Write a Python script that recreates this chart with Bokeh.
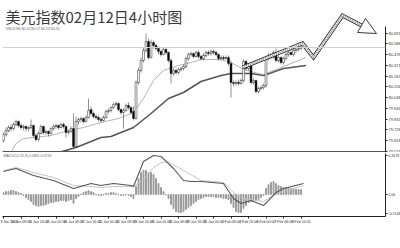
from bokeh.plotting import figure
from bokeh.models import Range1d, FixedTicker, Span, Label, ColumnDataSource, NumeralTickFormatter
from bokeh.layouts import column
from bokeh.embed import file_html
from bokeh.resources import INLINE

# ---------------- data ----------------
opens = [79.62, 79.68, 79.72, 79.75, 79.74, 79.78, 79.81, 79.77, 79.75, 79.76,
         79.74, 79.75, 79.77, 79.67, 79.63, 79.69, 79.76, 79.70, 79.71, 79.69,
         79.74, 79.76, 79.77, 79.75, 79.78, 79.76, 79.70, 79.71, 79.74, 79.56,
         79.81, 79.83, 79.84, 79.81, 79.85, 79.93, 79.89, 79.86, 79.85, 79.83,
         79.82, 79.85, 79.91, 79.92, 79.95, 79.98, 79.99, 79.93, 79.90, 79.92,
         79.97, 79.95, 79.91, 79.84, 80.20, 80.32, 80.42, 80.52, 80.61, 80.45,
         80.60, 80.57, 80.54, 80.51, 80.48, 80.53, 80.50, 80.42, 80.29, 80.32,
         80.30, 80.33, 80.34, 80.36, 80.44, 80.48, 80.49, 80.46, 80.50, 80.46,
         80.44, 80.47, 80.50, 80.49, 80.51, 80.50, 80.48, 80.44, 80.45, 80.44,
         80.45, 80.39, 80.20, 80.19, 80.20, 80.19, 80.22, 80.41, 80.34, 80.37,
         80.20, 80.22, 80.11, 80.14, 80.15, 80.17, 80.44, 80.47, 80.45, 80.50,
         80.42, 80.45, 80.40, 80.44, 80.48, 80.50, 80.48, 80.52, 80.53, 80.54]
highs = [79.70, 79.75, 79.77, 79.78, 79.80, 79.83, 79.82, 79.79, 79.78, 79.77,
         79.76, 79.83, 79.78, 79.69, 79.71, 79.78, 79.77, 79.73, 79.72, 79.75,
         79.78, 79.79, 79.78, 79.80, 79.80, 79.77, 79.73, 79.76, 79.89, 79.86,
         79.85, 79.86, 79.85, 79.87, 80.04, 79.96, 79.91, 79.88, 79.87, 79.85,
         79.87, 79.93, 79.94, 79.96, 80.00, 80.01, 80.00, 79.94, 79.94, 79.99,
         80.00, 79.96, 79.96, 80.22, 80.35, 80.45, 80.55, 80.69, 80.64, 80.63,
         80.62, 80.59, 80.56, 80.53, 80.55, 80.55, 80.51, 80.44, 80.34, 80.34,
         80.35, 80.36, 80.38, 80.46, 80.50, 80.51, 80.50, 80.52, 80.52, 80.48,
         80.49, 80.52, 80.52, 80.53, 80.53, 80.52, 80.49, 80.47, 80.47, 80.47,
         80.47, 80.42, 80.22, 80.22, 80.23, 80.24, 80.43, 80.43, 80.39, 80.38,
         80.24, 80.23, 80.16, 80.17, 80.19, 80.46, 80.49, 80.49, 80.52, 80.54,
         80.47, 80.46, 80.46, 80.50, 80.52, 80.52, 80.54, 80.55, 80.56, 80.57]
lows = [79.60, 79.66, 79.70, 79.71, 79.72, 79.76, 79.75, 79.73, 79.72, 79.71,
        79.71, 79.73, 79.65, 79.61, 79.61, 79.68, 79.68, 79.68, 79.66, 79.68,
        79.72, 79.74, 79.73, 79.74, 79.74, 79.65, 79.68, 79.70, 79.54, 79.55,
        79.78, 79.80, 79.79, 79.80, 79.84, 79.87, 79.84, 79.83, 79.81, 79.80,
        79.81, 79.84, 79.89, 79.90, 79.94, 79.96, 79.91, 79.88, 79.74, 79.91,
        79.93, 79.88, 79.82, 79.83, 80.18, 80.30, 80.40, 80.50, 80.43, 80.44,
        80.54, 80.52, 80.48, 80.46, 80.47, 80.48, 80.40, 80.19, 80.27, 80.28,
        80.28, 80.31, 80.32, 80.34, 80.42, 80.46, 80.44, 80.45, 80.44, 80.42,
        80.42, 80.45, 80.47, 80.47, 80.48, 80.46, 80.42, 80.42, 80.42, 80.43,
        80.37, 80.05, 80.16, 80.17, 80.17, 80.18, 80.20, 80.32, 80.32, 80.18,
        80.18, 80.09, 80.09, 80.12, 80.13, 80.15, 80.42, 80.43, 80.44, 80.40,
        80.40, 80.38, 80.38, 80.42, 80.46, 80.47, 80.46, 80.50, 80.51, 80.53]
closes = [79.68, 79.72, 79.75, 79.74, 79.78, 79.81, 79.77, 79.75, 79.76, 79.74,
          79.75, 79.77, 79.67, 79.63, 79.69, 79.76, 79.70, 79.71, 79.69, 79.74,
          79.76, 79.77, 79.75, 79.78, 79.76, 79.70, 79.71, 79.74, 79.56, 79.81,
          79.83, 79.84, 79.81, 79.85, 79.92, 79.89, 79.86, 79.85, 79.83, 79.82,
          79.85, 79.91, 79.92, 79.95, 79.98, 79.99, 79.93, 79.90, 79.92, 79.97,
          79.95, 79.90, 79.84, 80.20, 80.32, 80.42, 80.52, 80.61, 80.45, 80.60,
          80.57, 80.54, 80.51, 80.48, 80.53, 80.50, 80.42, 80.29, 80.32, 80.30,
          80.33, 80.34, 80.36, 80.44, 80.48, 80.49, 80.46, 80.50, 80.46, 80.44,
          80.47, 80.50, 80.49, 80.51, 80.50, 80.48, 80.44, 80.45, 80.44, 80.45,
          80.39, 80.20, 80.19, 80.20, 80.19, 80.22, 80.41, 80.34, 80.37, 80.20,
          80.22, 80.11, 80.14, 80.15, 80.17, 80.44, 80.47, 80.45, 80.50, 80.42,
          80.45, 80.40, 80.44, 80.48, 80.50, 80.48, 80.52, 80.53, 80.54, 80.55]

fast_ma_x = [3, 5, 8, 12, 19, 26, 32, 39, 46, 52, 56, 60, 64, 70, 75, 79, 87, 90, 94, 96, 102, 104, 110, 115, 121]
fast_ma = [79.50, 79.59, 79.64, 79.65, 79.67, 79.72, 79.75, 79.80, 79.84, 79.90, 80.04, 80.22, 80.32,
           80.37, 80.40, 80.43, 80.43, 80.41, 80.36, 80.33, 80.29, 80.28, 80.34, 80.39, 80.45]
slow_ma_x = [22, 29, 39, 43, 52, 59, 66, 72, 79, 87, 91, 99, 104, 112, 121]
slow_ma = [79.50, 79.55, 79.65, 79.66, 79.75, 79.89, 80.04, 80.10, 80.21, 80.27, 80.29, 80.29, 80.27, 80.34, 80.37]

current_price = 80.55
price_ticks = [80.693, 80.586, 80.478, 80.371, 80.263, 80.156, 80.048, 79.941, 79.833, 79.726, 79.618, 79.511]

macd_hist = [0.016, 0.024, 0.024, 0.033, 0.033, 0.024, 0.016, 0.008, -0.008, -0.024,
             -0.041, -0.057, -0.082, -0.090, -0.098, -0.090, -0.090, -0.082, -0.073, -0.065,
             -0.065, -0.057, -0.057, -0.049, -0.049, -0.057, -0.049, -0.041, -0.073, -0.033,
             -0.016, 0.004, 0.016, 0.024, 0.033, 0.024, 0.016, -0.004, -0.008, -0.008,
             -0.004, 0.008, 0.008, 0.016, 0.016, 0.008, -0.004, -0.008, -0.008, -0.004,
             -0.008, -0.016, -0.033, 0.065, 0.130, 0.179, 0.196, 0.196, 0.179, 0.179,
             0.163, 0.130, 0.090, 0.057, 0.024, -0.003, -0.033, -0.082, -0.114, -0.139,
             -0.147, -0.147, -0.139, -0.122, -0.106, -0.090, -0.073, -0.057, -0.041, -0.033,
             -0.024, -0.016, -0.016, -0.016, -0.016, -0.024, -0.024, -0.024, -0.033, -0.033,
             -0.041, -0.073, -0.106, -0.139, -0.147, -0.147, -0.114, -0.090, -0.065, -0.057,
             -0.049, -0.049, -0.041, -0.024, -0.008, 0.049, 0.081, 0.098, 0.106, 0.090,
             0.073, 0.065, 0.057, 0.057, 0.057, 0.049, 0.049, 0.041, 0.041, 0.041]
macd_x = [0, 5, 12, 20, 28, 35, 39, 44, 51, 52, 56, 60, 63, 68, 72, 75, 79, 88, 92, 95, 99, 104, 109, 112, 120]
macd_main = [0.187, 0.212, 0.155, 0.114, 0.049, 0.090, 0.073, 0.090, 0.073, 0.065, 0.269, 0.318, 0.310,
             0.212, 0.114, 0.106, 0.106, 0.090, -0.033, -0.073, -0.049, -0.090, 0.016, 0.049, 0.090]
signal_x = [0, 5, 12, 20, 28, 35, 39, 44, 52, 56, 60, 63, 66, 70, 79, 88, 92, 96, 104, 109, 120]
macd_signal = [0.196, 0.220, 0.179, 0.139, 0.073, 0.065, 0.057, 0.065, 0.065, 0.120, 0.220, 0.262,
               0.265, 0.220, 0.114, 0.098, 0.016, -0.033, -0.057, 0.008, 0.073]
macd_ticks = [0.3178, 0.0, -0.1548]
macd_tick_labels = ["0.3178", "0.00", "-0.1548"]

date_ticks = [0, 7, 14, 21, 28, 35, 42, 49, 56, 63, 70, 77, 84, 91, 98, 105, 112, 119]
date_labels = ["9 Jan 2013", "10 Jan 08:00", "11 Jan 16:00", "15 Jan 00:00", "16 Jan 08:00",
               "17 Jan 16:00", "21 Jan 00:00", "22 Jan 08:00", "23 Jan 16:00", "25 Jan 00:00",
               "28 Jan 08:00", "29 Jan 16:00", "31 Jan 00:00", "1 Feb 08:00", "4 Feb 16:00",
               "6 Feb 00:00", "7 Feb 08:00", "8 Feb 16:00"]

title_text = "美元指数02月12日4小时图"
header_text = "USDX,H4  80.54 80.57 80.53 80.55"
macd_header = "MACD(12,26,9) 0.0901 0.0733"

# hand-drawn forecast arrow (bar index, price)
arrow_x = [95.6, 119.6, 124.0, 135.6, 143.2]
arrow_y = [80.35, 80.59, 80.45, 80.87, 80.77]
head_x = [141.6, 149.2, 144.8]
head_y = [80.70, 80.69, 80.84]

# ---------------- figures ----------------
idx = list(range(len(closes)))
xr = Range1d(-0.4, 152.8)
FW = 383
TICK_FONT = "Liberation Sans"

p1 = figure(frame_width=FW, frame_height=152, x_range=xr, y_range=Range1d(79.50, 81.02),
            output_backend="svg", toolbar_location=None, x_axis_location=None,
            y_axis_location="right", min_border_left=2, min_border_top=0,
            min_border_bottom=0, min_border_right=0)
p1.outline_line_color = None
p1.grid.visible = False
ya = p1.yaxis[0]
ya.ticker = FixedTicker(ticks=price_ticks)
ya.formatter = NumeralTickFormatter(format="0.000")
ya.major_label_text_font_size = "4px"
ya.major_label_text_font = TICK_FONT
ya.major_label_text_color = "#333333"
ya.major_tick_out = 2
ya.major_tick_in = 0
ya.minor_tick_out = 0
ya.minor_tick_in = 0
ya.major_label_standoff = 1
ya.axis_line_color = "#222222"
ya.major_tick_line_color = "#222222"
ya.bounds = (79.50, 80.76)

p1.add_layout(Span(location=current_price, dimension="width", line_color="#d0d0d0", line_width=1))
p1.add_layout(Span(location=79.506, dimension="width", line_color="#555555", line_width=2))

tops = [max(o, c) for o, c in zip(opens, closes)]
bots = [min(o, c) for o, c in zip(opens, closes)]
fills = ["white" if c >= o else "black" for o, c in zip(opens, closes)]
src = ColumnDataSource(dict(x=idx, high=highs, low=lows, top=tops, bottom=bots, fill=fills))

p1.line(slow_ma_x, slow_ma, line_color="#555555", line_width=1.6)
p1.line(fast_ma_x, fast_ma, line_color="#aaaaaa", line_width=0.9)
p1.segment(x0="x", y0="high", x1="x", y1="low", source=src, line_color="#333333", line_width=0.55)
p1.vbar(x="x", top="top", bottom="bottom", width=0.75, fill_color="fill",
        line_color="#222222", line_width=0.5, source=src)

# forecast zigzag arrow
p1.line(arrow_x, arrow_y, line_color="#222222", line_width=4, line_join="miter")
p1.line(arrow_x, arrow_y, line_color="white", line_width=2.4, line_join="miter")
p1.line(arrow_x, arrow_y, line_color="#888888", line_width=1.8, line_dash="1 1", line_join="miter")
p1.patch(head_x, head_y, fill_color="white", line_color="#222222", line_width=0.9)

p1.add_layout(Label(x=0.8, y=80.965, text=title_text, text_font="Noto Sans CJK SC",
                    text_font_size="15px", text_baseline="top", text_color="#3a3a3a"))
p1.add_layout(Label(x=0.8, y=80.755, text=header_text, text_font=TICK_FONT,
                    text_font_size="3.5px", text_baseline="top", text_color="#666666"))
p1.add_layout(Label(x=154.0, y=current_price, text="80.550", text_font=TICK_FONT,
                    text_font_size="4px", text_baseline="middle", text_color="white",
                    background_fill_color="#333333"))

p2 = figure(frame_width=FW, frame_height=63, x_range=xr, y_range=Range1d(-0.179, 0.334),
            output_backend="svg", toolbar_location=None, y_axis_location="right",
            min_border_left=2, min_border_top=1, min_border_bottom=30, min_border_right=0)
p2.outline_line_color = None
p2.grid.visible = False
ya2 = p2.yaxis[0]
ya2.ticker = FixedTicker(ticks=macd_ticks)
ya2.major_label_overrides = {t: s for t, s in zip(macd_ticks, macd_tick_labels)}
for ax in (ya2, p2.xaxis[0]):
    ax.major_label_text_font_size = "3.5px"
    ax.major_label_text_font = TICK_FONT
    ax.major_label_text_color = "#333333"
    ax.major_tick_out = 2
    ax.major_tick_in = 0
    ax.minor_tick_out = 0
    ax.minor_tick_in = 0
    ax.major_label_standoff = 1
    ax.axis_line_color = "#222222"
    ax.major_tick_line_color = "#222222"
xa = p2.xaxis[0]
xa.ticker = FixedTicker(ticks=date_ticks)
xa.major_label_overrides = {t: s for t, s in zip(date_ticks, date_labels)}
xa.major_label_text_align = "left"

p2.vbar(x=idx, top=macd_hist, bottom=0, width=0.35, color="#9a9a9a")
p2.line(signal_x, macd_signal, line_color="#c4c4c4", line_width=1)
p2.line(macd_x, macd_main, line_color="#555555", line_width=1.1)
p2.add_layout(Label(x=0.0, y=0.326, text=macd_header, text_font=TICK_FONT,
                    text_font_size="3.5px", text_baseline="top", text_color="#666666"))

layout = column(p1, p2, spacing=0)
open("out.html", "w").write(file_html(layout, INLINE))
